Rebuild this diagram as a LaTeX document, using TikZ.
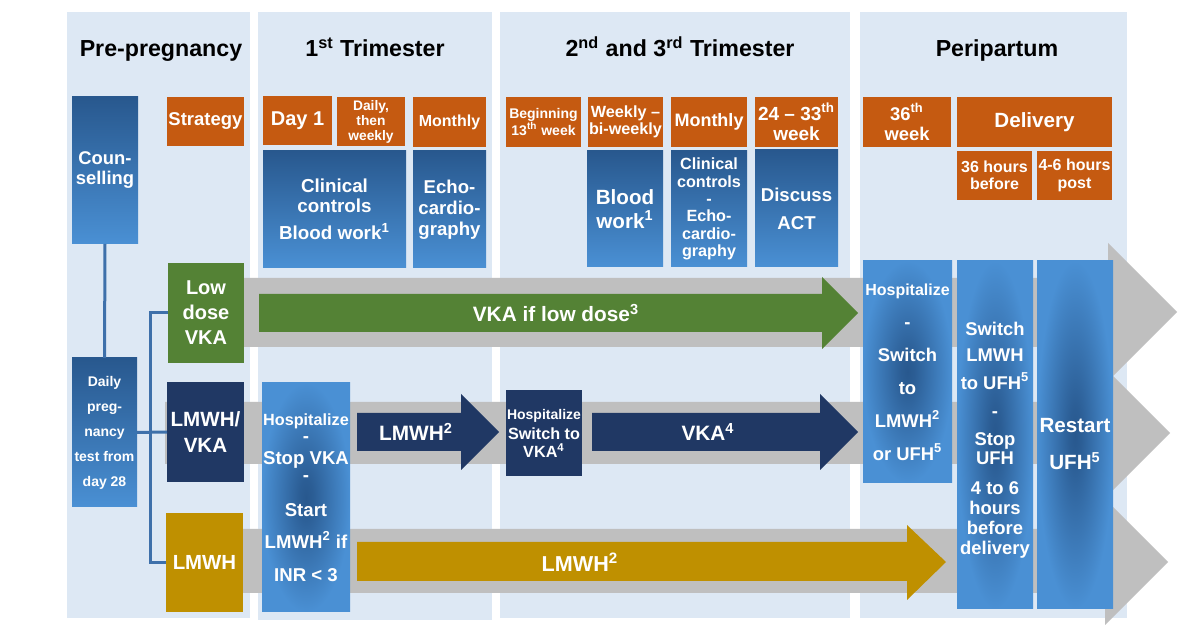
\documentclass[tikz,border=0pt]{standalone}
\usepackage{fontspec}
\setmainfont{Liberation Sans}
\definecolor{panel}{RGB}{221,232,244}
\definecolor{band}{RGB}{191,191,191}
\definecolor{orng}{RGB}{197,90,17}
\definecolor{grn}{RGB}{84,130,53}
\definecolor{navy}{RGB}{32,56,100}
\definecolor{gold}{RGB}{191,144,0}
\definecolor{bdark}{RGB}{40,88,142}
\definecolor{blight}{RGB}{74,144,212}
\definecolor{lineblue}{RGB}{62,112,170}
\pgfdeclareradialshading{myrad}{\pgfpoint{0bp}{0bp}}{color(0bp)=(bdark); color(4bp)=(bdark!90!blight); color(25bp)=(blight); color(50bp)=(blight)}
\newcommand\fsz[2]{\fontsize{#1}{#2}\selectfont}
\newcommand\rbox[7]{\node[#1, minimum width={(#5-#3)*0.5pt}, minimum height={(#6-#4)*0.5pt}] (#2) at ({(#3+#5)/2},{(#4+#6)/2}) {#7};}
\tikzset{
  box/.style={inner sep=0pt, outer sep=0pt, align=center, text=white},
  orangebox/.style={box, fill=orng},
  greenbox/.style={box, fill=grn},
  navybox/.style={box, fill=navy},
  goldbox/.style={box, fill=gold},
  bluebox/.style={box, top color=bdark, bottom color=blight},
  radbox/.style={box, shading=myrad},
  hdr/.style={anchor=base, inner sep=0pt, font=\bfseries\fsz{11.6}{14}, text=black},
  conn/.style={draw=lineblue, line width=1.5pt},
  lbl/.style={inner sep=0pt, text=white, font=\bfseries\fsz{10.4}{12}}
}
\begin{document}
\begin{tikzpicture}[x=0.5pt,y=-0.5pt]
\useasboundingbox (0,0) rectangle (1200,640);
\fill[white] (0,0) rectangle (1200,640);
% panels
\fill[panel] (67,12) rectangle (250,618);
\fill[panel] (258,12) rectangle (492,620);
\fill[panel] (500,12) rectangle (850,618);
\fill[panel] (860,12) rectangle (1127,618);
% gray arrows
\fill[band] (200,278) -- (1108,278) -- (1108,243) -- (1177,312) -- (1108,381) -- (1108,347) -- (200,347) -- cycle;
\fill[band] (165,402) -- (1105,402) -- (1105,368) -- (1170,433) -- (1105,498) -- (1105,464) -- (165,464) -- cycle;
\fill[band] (200,529) -- (1105,529) -- (1105,499) -- (1168,562) -- (1105,625) -- (1105,593) -- (200,593) -- cycle;
% coloured arrows
\fill[grn] (259,294) -- (822,294) -- (822,277) -- (858,313) -- (822,349) -- (822,332) -- (259,332) -- cycle;
\node[lbl] (vkalow) at (556,313) {VKA if low dose\textsuperscript{3}};
\fill[navy] (357,413) -- (461,413) -- (461,394) -- (499,432) -- (461,470) -- (461,451) -- (357,451) -- cycle;
\node[lbl] (lmwhA) at (416,432) {LMWH\textsuperscript{2}};
\fill[navy] (592,413) -- (820,413) -- (820,394) -- (858,432) -- (820,470) -- (820,451) -- (592,451) -- cycle;
\node[lbl] (vkaB) at (708,432) {VKA\textsuperscript{4}};
\fill[gold] (357,542) -- (907,542) -- (907,525) -- (946,562) -- (907,600) -- (907,581) -- (357,581) -- cycle;
\node[lbl, font=\bfseries\fsz{10.8}{12}] (lmwhC) at (580,562) {LMWH\textsuperscript{2}};
% pre-pregnancy
\rbox{bluebox,font=\bfseries\fsz{9.2}{10}}{couns}{72}{97}{138}{244}{Coun-\\selling}
\rbox{bluebox,font=\bfseries\fsz{7}{12.5}}{daily}{72}{358}{137}{507}{Daily\\preg-\\nancy\\test from\\day 28}
\rbox{orangebox,font=\bfseries\fsz{9.25}{11}}{strat}{167}{97}{244}{146}{Strategy}
\rbox{greenbox,font=\bfseries\fsz{10}{12.5}}{lowdose}{168}{263}{244}{363}{Low\\dose\\VKA}
\rbox{navybox,font=\bfseries\fsz{10.3}{13}}{lmwhvka}{167}{382}{244}{482}{LMWH/\\VKA}
\rbox{goldbox,font=\bfseries\fsz{10.2}{12}}{lmwh}{166}{513}{243}{612}{LMWH}
% 1st trimester
\rbox{orangebox,font=\bfseries\fsz{10}{12}}{day1}{263}{96}{332}{145}{Day 1}
\rbox{orangebox,font=\bfseries\fsz{6.9}{7.5}}{dtw}{337}{97}{405}{146}{Daily,\\then\\weekly}
\rbox{orangebox,font=\bfseries\fsz{8}{10}}{mon1}{413}{97}{486}{147}{Monthly}
\rbox{bluebox,font=\bfseries\fsz{9.4}{10}}{clin1}{263}{151}{406}{268}{Clinical\\controls\\[3.5pt]Blood work\textsuperscript{1}}
\rbox{bluebox,font=\bfseries\fsz{9.3}{10.5}}{echo1}{413}{151}{486}{268}{Echo-\\cardio-\\graphy}
\rbox{radbox,font=\bfseries\fsz{9.3}{10}}{hosp1}{262}{383}{350}{612}{{\fsz{8.1}{10}Hospitalize}\\[-1.5pt]-\\[1pt]Stop VKA\\[-1.5pt]-\\[7.5pt]Start\\[6pt]LMWH\textsuperscript{2} if\\[6.5pt]INR < 3}
% 2nd and 3rd trimester
\rbox{orangebox,font=\bfseries\fsz{7}{8.3}}{beg}{506}{97}{581}{147}{Beginning\\13\textsuperscript{th} week}
\rbox{orangebox,font=\bfseries\fsz{8.1}{8.8}}{wbw}{588}{97}{663}{147}{Weekly –\\bi-weekly}
\rbox{orangebox,font=\bfseries\fsz{9}{10}}{mon2}{671}{97}{747}{147}{Monthly}
\rbox{orangebox,font=\bfseries\fsz{9.5}{10}}{wk24}{755}{97}{838}{147}{24 – 33\textsuperscript{th}\\week}
\rbox{bluebox,font=\bfseries\fsz{10.3}{11.7}}{blood2}{587}{151}{663}{267}{Blood\\work\textsuperscript{1}}
\rbox{bluebox,font=\bfseries\fsz{8.1}{8.7}}{clin2}{671}{151}{747}{267}{Clinical\\controls\\-\\Echo-\\cardio-\\graphy}
\rbox{bluebox,font=\bfseries\fsz{9.3}{14}}{disc}{755}{150}{838}{267}{Discuss\\ACT}
\rbox{navybox,font=\bfseries\fsz{8.1}{9}}{hsw}{506}{390}{582}{476}{{\fsz{7}{9}Hospitalize}\\[1pt]Switch to\\VKA\textsuperscript{4}}
% peripartum
\rbox{orangebox,font=\bfseries\fsz{9.2}{10}}{wk36}{863}{97}{951}{147}{36\textsuperscript{th}\\week}
\rbox{orangebox,font=\bfseries\fsz{10.3}{12}}{deliv}{957}{97}{1112}{147}{Delivery}
\rbox{orangebox,font=\bfseries\fsz{8}{8.7}}{h36}{957}{151}{1032}{200}{36 hours\\before}
\rbox{orangebox,font=\bfseries\fsz{8}{8.7}}{h46}{1037}{151}{1112}{200}{4-6 hours\\post}
\rbox{radbox,font=\bfseries\fsz{9.2}{16.5}}{hospP}{863}{261}{952}{483}{{\fsz{8}{16.5}Hospitalize}\\-\\Switch\\to\\LMWH\textsuperscript{2}\\or UFH\textsuperscript{5}}
\rbox{radbox,font=\bfseries\fsz{9.2}{10}}{swP}{957}{261}{1033}{609}{\mbox{}\\[1.6pt]Switch\\[3pt]LMWH\\[4pt]to UFH\textsuperscript{5}\\[4pt]-\\[4pt]Stop\\[-0.5pt]UFH\\[5pt]4 to 6\\hours\\before\\delivery}
\rbox{radbox,font=\bfseries\fsz{10.3}{18.5}}{restart}{1037}{261}{1113}{609}{\mbox{}\\[-2pt]Restart\\UFH\textsuperscript{5}}
% connectors
\coordinate (branch) at (150,433);
\draw[conn] (couns.south) -- (daily.north);
\draw[conn] (daily.east) -- (lmwhvka.west);
\draw[conn] (lowdose.west) -| (branch) |- (lmwh.west);
% headers
\node[hdr] (hpre) at (161,57) {Pre-pregnancy};
\node[hdr] (h1) at (375,57) {1\textsuperscript{st} Trimester};
\node[hdr] (h2) at (680,57) {2\textsuperscript{nd} and 3\textsuperscript{rd} Trimester};
\node[hdr] (h4) at (997,57) {Peripartum};
\end{tikzpicture}
\end{document}
